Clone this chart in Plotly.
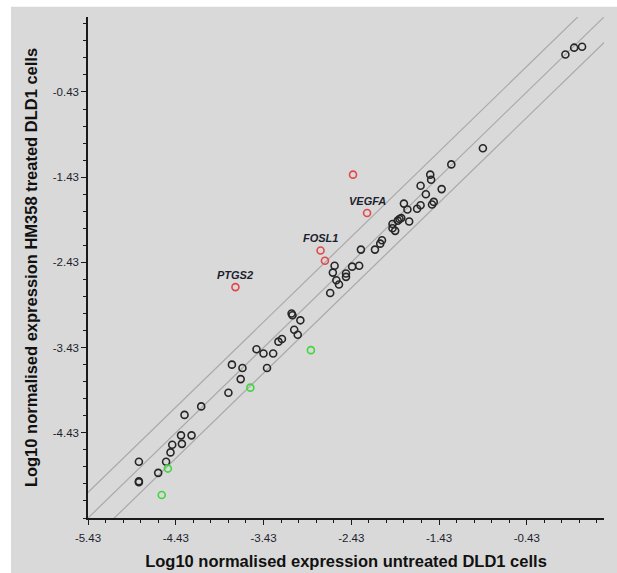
import plotly.graph_objects as go

# ---- data (log10 normalised expression) ----
black_x = [-4.14, -4.33, -4.37, -4.25, -4.47, -4.36, -4.49, -4.85, -4.54, -4.63, -4.85, -4.85,
           -3.83, -3.69, -3.79, -3.67, -3.39, -3.51, -3.43, -3.32, -3.26, -3.22, -3.11, -3.10,
           -3.01, -3.08, -3.04, -2.67, -2.60, -2.57, -2.49, -2.49, -2.64, -2.62, -2.42, -2.34,
           -2.32, -2.16, -2.10, -2.08, -1.96, -1.96, -1.93, -1.90, -1.88, -1.86, -1.77, -1.83,
           -1.79, -1.68, -1.64, -1.51, -1.49, -1.58, -1.64, -1.40, -1.53, -1.52, -1.29, -0.93,
           0.01, 0.11, 0.20]
black_y = [-4.12, -4.22, -4.46, -4.46, -4.57, -4.56, -4.66, -4.77, -4.77, -4.90, -5.00, -5.01,
           -3.96, -3.80, -3.63, -3.67, -3.67, -3.45, -3.50, -3.50, -3.36, -3.33, -3.03, -3.05,
           -3.11, -3.22, -3.28, -2.79, -2.64, -2.69, -2.56, -2.60, -2.55, -2.47, -2.48, -2.47,
           -2.28, -2.28, -2.21, -2.17, -1.98, -2.03, -2.06, -1.94, -1.92, -1.91, -1.95, -1.74,
           -1.81, -1.80, -1.76, -1.75, -1.72, -1.63, -1.53, -1.57, -1.40, -1.46, -1.28, -1.09,
           0.01, 0.09, 0.10]

up_x = [-2.41, -2.25, -2.78, -2.73, -3.75]
up_y = [-1.40, -1.85, -2.29, -2.41, -2.72]
up_labels = ["", "VEGFA", "FOSL1", "", "PTGS2"]

down_x = [-4.52, -4.59, -3.58, -2.89]
down_y = [-4.85, -5.16, -3.90, -3.46]

guide_offsets = [0.30, 0.0, -0.30]
guide_x = [-6.0, 1.0]

x_tick_vals = [-5.43, -4.43, -3.43, -2.43, -1.43, -0.43]
x_tick_text = ["-5.43", "-4.43", "-3.43", "-2.43", "-1.43", "-0.43"]
y_tick_vals = [-4.43, -3.43, -2.43, -1.43, -0.43]
y_tick_text = ["-4.43", "-3.43", "-2.43", "-1.43", "-0.43"]
axis_range = [-5.43, 0.45]

x_title = "Log10 normalised expression untreated DLD1 cells"
y_title = "Log10 normalised expression HM358 treated DLD1 cells"

BG = "#d9d9d9"
TXT = "#1c1f2e"

fig = go.Figure()

for off in guide_offsets:
    fig.add_trace(go.Scatter(
        x=guide_x, y=[v + off for v in guide_x], mode="lines",
        line=dict(color="#a9a9a9", width=1.2), hoverinfo="skip", showlegend=False))

def add_pts(xs, ys, color):
    fig.add_trace(go.Scatter(
        x=xs, y=ys, mode="markers", showlegend=False,
        marker=dict(symbol="circle-open", size=7, color=color, line=dict(color=color, width=1.6))))

add_pts(black_x, black_y, "#262626")
add_pts(up_x, up_y, "#e2474a")
add_pts(down_x, down_y, "#3fd63f")

for x, y, t in zip(up_x, up_y, up_labels):
    if t:
        fig.add_annotation(x=x, y=y, text="<b><i>%s</i></b>" % t, showarrow=False,
                           yshift=12, font=dict(family="Liberation Sans, Arial", size=11, color=TXT))

axis_common = dict(
    range=axis_range, tickmode="array", automargin=False,
    showgrid=False, zeroline=False, showline=True, linecolor="#1a1a1a", linewidth=1.5,
    ticks="outside", ticklen=5, tickwidth=1.2, tickcolor="#1a1a1a",
    tickfont=dict(family="Liberation Sans, Arial", size=11.5, color=TXT),
    minor=dict(tick0=-5.43, dtick=0.2, ticks="outside", ticklen=3, tickwidth=1, tickcolor="#1a1a1a"),
    title_font=dict(family="Liberation Sans, Arial", size=16.5, color="#111111"),
)

fig.update_xaxes(**axis_common, tickvals=x_tick_vals, ticktext=x_tick_text,
                 ticklabelstandoff=3,
                 title_text="<b>%s</b>" % x_title, title_standoff=13)
fig.update_yaxes(**axis_common, tickvals=y_tick_vals, ticktext=y_tick_text,
                 title_text="<b>%s</b>" % y_title, title_standoff=11)

fig.add_shape(type="rect", xref="paper", yref="paper", x0=-0.1492, x1=1.03, y0=-0.12, y1=1.0206,
              fillcolor=BG, line=dict(width=0), layer="below")

fig.update_layout(
    width=617, height=573,
    margin=dict(l=88, r=13, t=17, b=55, pad=0),
    paper_bgcolor="white", plot_bgcolor=BG,
    showlegend=False,
)

fig.write_html("out.html")
